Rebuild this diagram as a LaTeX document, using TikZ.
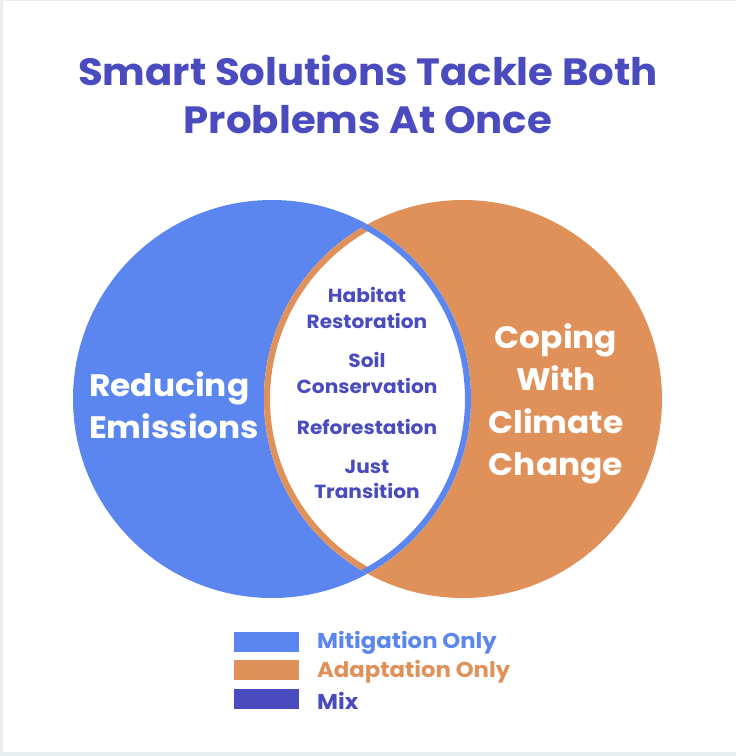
\documentclass[tikz,border=0pt]{standalone}
\usepackage{fontspec}
\setmainfont{Poppins}[FakeStretch=1.06]
\usepackage{tikz}

\definecolor{mitblue}{HTML}{5B86F0}
\definecolor{adaporange}{HTML}{E0915A}
\definecolor{mixindigo}{HTML}{4A4BBE}
\definecolor{framegray}{HTML}{E9EEEE}

\begin{document}
\begin{tikzpicture}[x=1pt,y=1pt]
\tikzstyle{every node}+=[inner sep=0pt]
\tikzstyle{titletext}=[text=mixindigo, font=\bfseries\fontsize{38}{48}\selectfont, align=center]
\tikzstyle{bigtext}=[text=white, font=\bfseries\fontsize{31}{42.5}\selectfont]
\tikzstyle{lenstext}=[text=mixindigo, font=\bfseries\fontsize{19}{25.5}\selectfont, align=center]
\tikzstyle{swatch}=[minimum width=65, minimum height=20]
\tikzstyle{keytext}=[font=\bfseries\fontsize{21.5}{24}\selectfont, anchor=west]
\fill [framegray] (0,0) rectangle (736,-756);
\fill [white] (3,-1) rectangle (736,-752);
\useasboundingbox (0,0) rectangle (736,-756);
\node [titletext] (title) at (368,-94) {Smart Solutions Tackle Both\\Problems At Once};
\fill [mitblue] (272,-399) circle (199);
\fill [adaporange] (463,-399) circle (199);
\begin{scope}
\clip (272,-399) circle (199);
\clip (463,-399) circle (199);
\fill [white] (260,-190) rectangle (475,-610);
\draw [adaporange, line width=12] (463,-399) circle (199);
\draw [mitblue, line width=12] (272,-399) circle (199);
\end{scope}
\node [bigtext, align=left, anchor=west] (reducing) at (89,-405) {Reducing\\Emissions};
\node [bigtext, align=center] (coping) at (556,-404) {Coping\\With\\Climate\\Change};
\node [lenstext] (habitat) at (367,-308) {Habitat\\Restoration};
\node [lenstext] (soil) at (367,-373) {Soil\\Conservation};
\node [lenstext] (refor) at (367,-427) {Reforestation};
\node [lenstext] (just) at (367,-479.5) {Just\\Transition};
\node [swatch, fill=mitblue] (mitkey) at (266.5,-641.5) {};
\node [swatch, fill=adaporange] (adapkey) at (266.5,-670) {};
\node [swatch, fill=mixindigo] (mixkey) at (266.5,-699) {};
\node [keytext, text=mitblue] (mitlabel) at (317,-643) {Mitigation Only};
\node [keytext, text=adaporange] (adaplabel) at (317,-671.5) {Adaptation Only};
\node [keytext, text=mixindigo] (mixlabel) at (317,-700.5) {Mix};
\end{tikzpicture}
\end{document}
